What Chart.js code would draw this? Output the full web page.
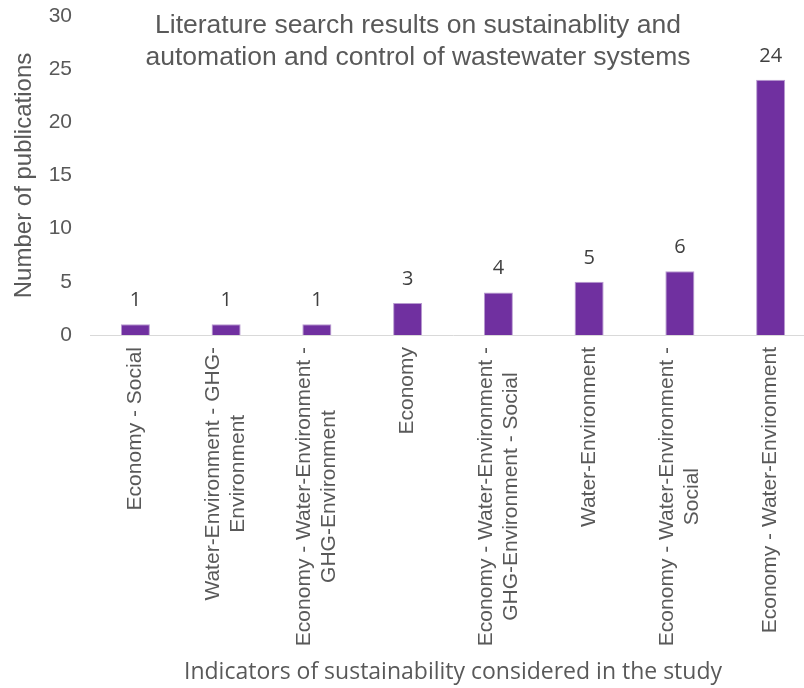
<!DOCTYPE html>
<html>
<head>
<meta charset="utf-8">
<script src="https://cdn.jsdelivr.net/npm/chart.js@4.4.0/dist/chart.umd.min.js"></script>
<style>
    html, body { margin: 0; padding: 0; background: #ffffff; overflow: hidden; }
    #wrap { width: 804px; height: 688px; overflow: hidden; }
</style>
</head>
<body>
<div id="wrap"><canvas id="chart" width="816" height="688"></canvas></div>
<script>
// categories, one entry per line of the rotated label
var categories = [
    ["Economy - Social"],
    ["Water-Environment - GHG-", "Environment"],
    ["Economy - Water-Environment -", "GHG-Environment"],
    ["Economy"],
    ["Economy - Water-Environment -", "GHG-Environment - Social"],
    ["Water-Environment"],
    ["Economy - Water-Environment -", "Social"],
    ["Economy - Water-Environment"]
];
var publications = [1, 1, 1, 3, 4, 5, 6, 24];
var yTicks = [0, 5, 10, 15, 20, 25, 30];
var chartTitle = ["Literature search results on sustainablity and", "automation and control of wastewater systems"];
var xTitle = "Indicators of sustainability considered in the study";
var yTitle = "Number of publications";

var grey = "#595959";

// title drawn inside the plot area, like the original
var titlePlugin = {
    id: 'innerTitle',
    afterDraw: function (chart) {
        var ctx = chart.ctx;
        ctx.save();
        ctx.fillStyle = grey;
        ctx.font = "26.5px 'Liberation Sans', Arial, sans-serif";
        ctx.textAlign = "center";
        ctx.textBaseline = "alphabetic";
        for (var i = 0; i < chartTitle.length; i++) {
            ctx.fillText(chartTitle[i], 418, 33 + i * 32);
        }
        ctx.restore();
    }
};

// value above each bar
var valuePlugin = {
    id: 'values',
    afterDatasetsDraw: function (chart) {
        var ctx = chart.ctx;
        var meta = chart.getDatasetMeta(0);
        ctx.save();
        ctx.fillStyle = "#404040";
        ctx.font = "20px 'Open Sans', sans-serif";
        ctx.textAlign = "center";
        ctx.textBaseline = "alphabetic";
        meta.data.forEach(function (bar, i) {
            ctx.fillText(String(publications[i]), bar.x, bar.y - 18);
        });
        ctx.restore();
    }
};

// rotated category labels, each line centred on the longest one
var labelPlugin = {
    id: 'rotLabels',
    afterDraw: function (chart) {
        var ctx = chart.ctx;
        var xs = chart.scales.x;
        var top = chart.chartArea.bottom + 12;
        var lh = 25;
        ctx.save();
        ctx.fillStyle = grey;
        ctx.font = "21px 'Liberation Sans', Arial, sans-serif";
        ctx.textAlign = "center";
        ctx.textBaseline = "middle";
        for (var i = 0; i < categories.length; i++) {
            var lines = categories[i];
            var maxW = 0;
            lines.forEach(function (l) { maxW = Math.max(maxW, ctx.measureText(l).width); });
            var x = xs.getPixelForTick(i);
            ctx.save();
            ctx.translate(x, top + maxW / 2);
            ctx.rotate(-Math.PI / 2);
            for (var j = 0; j < lines.length; j++) {
                ctx.fillText(lines[j], 0, (j - (lines.length - 1) / 2) * lh);
            }
            ctx.restore();
        }
        ctx.restore();
    }
};

var ctx = document.getElementById('chart').getContext('2d');
var myChart = new Chart(ctx, {
    type: 'bar',
    data: {
        labels: categories,
        datasets: [{
            label: yTitle,
            data: publications,
            backgroundColor: "#7030A0",
            borderColor: "#b89bd0",
            borderWidth: 1,
            barPercentage: 0.32,
            categoryPercentage: 1.0
        }]
    },
    options: {
        responsive: false,
        animation: false,
        devicePixelRatio: 1,
        layout: {
            padding: { top: 16, right: 0, bottom: 0, left: 0 }
        },
        plugins: {
            legend: { display: false },
            title: { display: false },
            tooltip: { enabled: false }
        },
        scales: {
            x: {
                grid: { display: false },
                border: { display: true, color: "#d9d9d9", width: 1 },
                ticks: { display: false },
                title: {
                    display: true,
                    text: xTitle,
                    color: grey,
                    font: { family: "'Open Sans', sans-serif", size: 23 },
                    padding: { top: 0, bottom: 2 }
                },
                afterFit: function (scale) { scale.height = 353; }
            },
            y: {
                min: 0,
                max: 30,
                grid: { display: false, drawTicks: false },
                border: { display: false },
                afterBuildTicks: function (scale) {
                    scale.ticks = yTicks.map(function (v) { return { value: v }; });
                },
                ticks: {
                    color: grey,
                    padding: 18,
                    font: { family: "'Liberation Sans', Arial, sans-serif", size: 21 }
                },
                title: {
                    display: true,
                    text: yTitle,
                    color: grey,
                    font: { family: "'Liberation Sans', Arial, sans-serif", size: 24 },
                    padding: { top: 10, bottom: 0 }
                },
                afterFit: function (scale) {
                    scale.width = 90;
                    scale.paddingTop = 0;
                    scale.paddingBottom = 0;
                }
            }
        }
    },
    plugins: [titlePlugin, valuePlugin, labelPlugin]
});
</script>
</body>
</html>
